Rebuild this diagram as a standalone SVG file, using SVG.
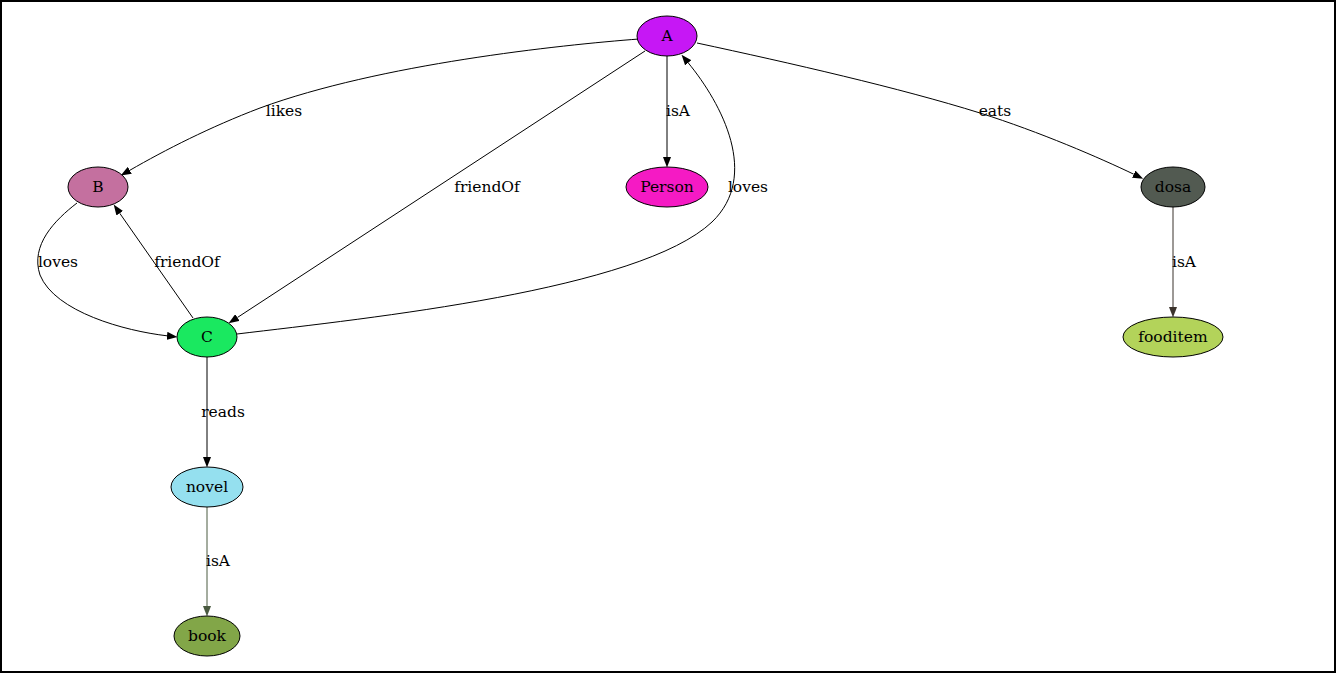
<svg xmlns="http://www.w3.org/2000/svg" width="1336" height="673" viewBox="0 0 1336 673">
  <style>
    .node ellipse { stroke: #000; stroke-width: 1; }
    .node text, .lbl { font-family: "DejaVu Serif", "Liberation Serif", serif; font-size: 15.5px; fill: #000; text-anchor: middle; }
    .edge { fill: none; stroke: #000; stroke-width: 1; }
  </style>
  <defs>
    <marker id="arrow" markerWidth="11" markerHeight="8" refX="0" refY="4" orient="auto" markerUnits="userSpaceOnUse">
      <path d="M0,0 L10.5,4 L0,8 z" fill="#000"/>
    </marker>
    <marker id="arrowDark" markerWidth="11" markerHeight="8" refX="0" refY="4" orient="auto" markerUnits="userSpaceOnUse">
      <path d="M0,0 L10.5,4 L0,8 z" fill="#3b332c"/>
    </marker>
    <marker id="arrowGreen" markerWidth="11" markerHeight="8" refX="0" refY="4" orient="auto" markerUnits="userSpaceOnUse">
      <path d="M0,0 L10.5,4 L0,8 z" fill="#4a5a40"/>
    </marker>
  </defs>

  <rect x="1" y="1" width="1334" height="671" fill="#fff" stroke="#000" stroke-width="2"/>

  <g id="connectors">
    <!-- A likes B -->
    <path class="edge" d="M639,39 C560,45 380,64 260,108 C210,127 165,150 129.8,170.3" marker-end="url(#arrow)"/>
    <text class="lbl" x="284" y="116">likes</text>
    <!-- A friendOf C -->
    <path class="edge" d="M645,51 L237.4,317.5" marker-end="url(#arrow)"/>
    <text class="lbl" x="487" y="192">friendOf</text>
    <!-- A isA Person -->
    <path class="edge" d="M667,56 L667,157" marker-end="url(#arrow)"/>
    <text class="lbl" x="678" y="116">isA</text>
    <!-- A eats dosa -->
    <path class="edge" d="M697,43 C790,63 900,88 980,113 C1040,132 1100,158 1133.7,174.2" marker-end="url(#arrow)"/>
    <text class="lbl" x="995" y="116">eats</text>
    <!-- C loves A -->
    <path class="edge" d="M237,334 C370,318 640,290 712,222 C760,176 722,104 688.2,62.8" marker-end="url(#arrow)"/>
    <text class="lbl" x="748" y="192">loves</text>
    <!-- B loves C -->
    <path class="edge" d="M77,203 C55,220 30,245 40,275 C55,312 125,331 167,335.8" marker-end="url(#arrow)"/>
    <text class="lbl" x="58" y="267">loves</text>
    <!-- C friendOf B -->
    <path class="edge" d="M193,318 L119.7,213.2" marker-end="url(#arrow)"/>
    <text class="lbl" x="187" y="267">friendOf</text>
    <!-- C reads novel -->
    <path class="edge" d="M207,357 L207,457" marker-end="url(#arrow)"/>
    <text class="lbl" x="223" y="417">reads</text>
    <!-- dosa isA fooditem -->
    <path class="edge" d="M1173,207 L1173,307" style="stroke:#3b332c" marker-end="url(#arrowDark)"/>
    <text class="lbl" x="1184" y="267">isA</text>
    <!-- novel isA book -->
    <path class="edge" d="M207,507 L207,606" style="stroke:#4a5a40" marker-end="url(#arrowGreen)"/>
    <text class="lbl" x="218" y="566">isA</text>
  </g>

  <g id="node-A" class="node">
    <ellipse cx="667" cy="36" rx="30" ry="20" fill="#c617f5"/>
    <text x="667" y="41">A</text>
  </g>
  <g id="node-B" class="node">
    <ellipse cx="98" cy="187" rx="30" ry="20" fill="#c4709f"/>
    <text x="98" y="192">B</text>
  </g>
  <g id="node-Person" class="node">
    <ellipse cx="667" cy="187" rx="41" ry="20" fill="#f51ac4"/>
    <text x="667" y="192">Person</text>
  </g>
  <g id="node-dosa" class="node">
    <ellipse cx="1173" cy="187" rx="32" ry="20" fill="#525a51"/>
    <text x="1173" y="192">dosa</text>
  </g>
  <g id="node-fooditem" class="node">
    <ellipse cx="1173" cy="337" rx="50" ry="20" fill="#b3d35a"/>
    <text x="1173" y="342">fooditem</text>
  </g>
  <g id="node-C" class="node">
    <ellipse cx="207" cy="337" rx="30" ry="20" fill="#1ae860"/>
    <text x="207" y="342">C</text>
  </g>
  <g id="node-novel" class="node">
    <ellipse cx="207" cy="487" rx="36" ry="20" fill="#95e0ef"/>
    <text x="207" y="492">novel</text>
  </g>
  <g id="node-book" class="node">
    <ellipse cx="207" cy="636" rx="33" ry="20" fill="#82a648"/>
    <text x="207" y="641">book</text>
  </g>
</svg>
